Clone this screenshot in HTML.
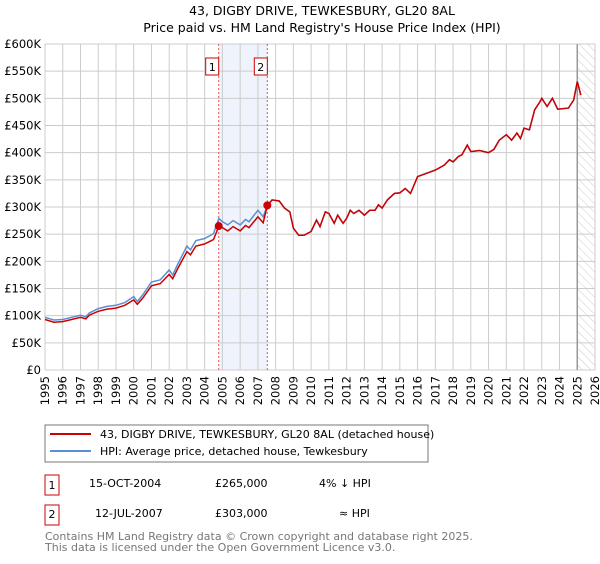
<!DOCTYPE html>
<html><head><meta charset="utf-8"><style>
body{margin:0;background:#fff;font-family:"DejaVu Sans","Liberation Sans",sans-serif;}
svg text{font-family:"DejaVu Sans","Liberation Sans",sans-serif;}
</style></head><body>
<svg id="chart" width="600" height="560" viewBox="0 0 600 560" xmlns="http://www.w3.org/2000/svg">
<text x="322" y="15" text-anchor="middle" font-size="12.5">43, DIGBY DRIVE, TEWKESBURY, GL20 8AL</text>
<text x="322" y="32" text-anchor="middle" font-size="12.5">Price paid vs. HM Land Registry's House Price Index (HPI)</text>
<defs><pattern id="hatch" width="6" height="6" patternUnits="userSpaceOnUse" patternTransform="rotate(-45)"><line x1="0" y1="0" x2="0" y2="6" stroke="#ccc" stroke-width="1"/></pattern></defs>
<g id="grid"></g><g id="marks"></g><g id="axes"></g>
<g>
<rect x="45" y="425" width="383" height="37" fill="#fff" stroke="#777"/>
<line x1="50" y1="434" x2="91" y2="434" stroke="#c00" stroke-width="2"/>
<text x="100" y="438" font-size="11">43, DIGBY DRIVE, TEWKESBURY, GL20 8AL (detached house)</text>
<line x1="50" y1="451" x2="91" y2="451" stroke="#5b8fd4" stroke-width="2"/>
<text x="100" y="455" font-size="11">HPI: Average price, detached house, Tewkesbury</text>
</g>
<g font-size="11">
<rect x="45" y="475" width="14" height="20" fill="#fff" stroke="#c00"/>
<text x="52" y="489" text-anchor="middle">1</text>
<text x="89" y="487">15-OCT-2004</text>
<text x="215" y="487">£265,000</text>
<text x="319" y="487">4% ↓ HPI</text>
<rect x="45" y="505" width="14" height="20" fill="#fff" stroke="#c00"/>
<text x="52" y="518" text-anchor="middle">2</text>
<text x="95" y="517">12-JUL-2007</text>
<text x="215" y="517">£303,000</text>
<text x="339" y="517">≈ HPI</text>
</g>
<text x="45" y="540" font-size="11" fill="#777">Contains HM Land Registry data © Crown copyright and database right 2025.</text>
<text x="45" y="551" font-size="11" fill="#777">This data is licensed under the Open Government Licence v3.0.</text>
</svg>
<script>
const hpiYears=[1995,1995.5,1996,1996.5,1997,1997.3,1997.5,1998,1998.5,1999,1999.5,2000,2000.2,2000.5,2001,2001.5,2002,2002.2,2002.5,2003,2003.2,2003.5,2004,2004.5,2004.8,2005,2005.3,2005.6,2006,2006.3,2006.5,2007,2007.3,2007.5,2007.8,2008.2,2008.5,2008.8,2009,2009.3,2009.6,2010,2010.3,2010.5,2010.8,2011,2011.3,2011.5,2011.8,2012,2012.2,2012.4,2012.7,2013,2013.3,2013.6,2013.8,2014,2014.3,2014.7,2015,2015.3,2015.6,2016,2016.5,2017,2017.5,2017.8,2018,2018.3,2018.5,2018.8,2019,2019.5,2020,2020.3,2020.6,2021,2021.3,2021.6,2021.8,2022,2022.3,2022.6,2022.9,2023,2023.3,2023.6,2023.9,2024.5,2024.8,2025,2025.2];
const hpiValues=[97,92,93,97,101,98,105,113,117,119,124,135,126,138,162,166,184,175,196,228,221,238,242,251,279,273,267,275,267,277,273,294,282,300,313,311,298,291,261,248,248,255,276,264,291,288,270,285,270,279,294,288,294,285,294,294,304,298,313,325,326,334,325,356,362,368,377,387,383,393,396,414,402,404,400,406,423,433,423,436,426,445,442,479,494,500,485,500,480,482,497,531,506];
const priceYears=[1995,1995.5,1996,1996.5,1997,1997.3,1997.5,1998,1998.5,1999,1999.5,2000,2000.2,2000.5,2001,2001.5,2002,2002.2,2002.5,2003,2003.2,2003.5,2004,2004.5,2004.8,2005,2005.3,2005.6,2006,2006.3,2006.5,2007,2007.3,2007.53,2007.8,2008.2,2008.5,2008.8,2009,2009.3,2009.6,2010,2010.3,2010.5,2010.8,2011,2011.3,2011.5,2011.8,2012,2012.2,2012.4,2012.7,2013,2013.3,2013.6,2013.8,2014,2014.3,2014.7,2015,2015.3,2015.6,2016,2016.5,2017,2017.5,2017.8,2018,2018.3,2018.5,2018.8,2019,2019.5,2020,2020.3,2020.6,2021,2021.3,2021.6,2021.8,2022,2022.3,2022.6,2022.9,2023,2023.3,2023.6,2023.9,2024.5,2024.8,2025,2025.2];
const priceValues=[93,88,89,93,97,94,101,108,112,114,119,129,121,132,155,159,176,168,188,218,212,228,232,240,265,262,256,264,256,266,262,282,271,303,313,311,298,291,261,248,248,255,276,264,291,288,270,285,270,279,294,288,294,285,294,294,304,298,313,325,326,334,325,356,362,368,377,387,383,393,396,414,402,404,400,406,423,433,423,436,426,445,442,479,494,500,485,500,480,482,497,531,506];
const sales=[{year:2004.79,value:265,label:"1"},{year:2007.53,value:303,label:"2"}];
const yTicks=[0,50,100,150,200,250,300,350,400,450,500,550,600];
const yTickLabels=["£0","£50K","£100K","£150K","£200K","£250K","£300K","£350K","£400K","£450K","£500K","£550K","£600K"];
const xTicks=[1995,1996,1997,1998,1999,2000,2001,2002,2003,2004,2005,2006,2007,2008,2009,2010,2011,2012,2013,2014,2015,2016,2017,2018,2019,2020,2021,2022,2023,2024,2025,2026];
const dataEnd=2025.0;

const X0=45,X1=595,Y0=370,Y1=44;
const xs=y=>X0+(y-1995)/(2026-1995)*(X1-X0);
const ys=v=>Y0-v/600*(Y0-Y1);
const NS="http://www.w3.org/2000/svg";
function mk(tag,attrs,parent){const e=document.createElementNS(NS,tag);for(const k in attrs)e.setAttribute(k,attrs[k]);parent.appendChild(e);return e;}
const grid=document.getElementById('grid'),marks=document.getElementById('marks'),axes=document.getElementById('axes');
// shaded region
let r=mk('rect',{x:xs(sales[0].year),y:Y1,width:xs(sales[1].year)-xs(sales[0].year),height:Y0-Y1,fill:'#eef3fc'},grid);


let h=mk('rect',{x:xs(dataEnd),y:Y1,width:X1-xs(dataEnd),height:Y0-Y1,fill:'url(#hatch)'},grid);


yTicks.forEach((t,i)=>{
  let l=mk('line',{x1:X0,x2:X1,y1:ys(t),y2:ys(t),stroke:'#ccc'},grid);
  
  
  let tx=mk('text',{x:X0-4,y:ys(t)+4,'text-anchor':'end','font-size':'11.5'},axes);
  tx.textContent=yTickLabels[i];
  
  
});
xTicks.forEach(t=>{
  let l=mk('line',{x1:xs(t),x2:xs(t),y1:Y1,y2:Y0,stroke:'#ccc'},grid);
  
  
  let tx=mk('text',{x:0,y:0,'text-anchor':'end','font-size':'11.5',transform:`translate(${xs(t)+4},${Y0+6}) rotate(-90)`},axes);
  tx.textContent=t;
  
  
});
let de=mk('line',{x1:xs(dataEnd),x2:xs(dataEnd),y1:Y1,y2:Y0,stroke:'#999','stroke-width':1.5},grid);


sales.forEach(s=>{
  let l=mk('line',{x1:xs(s.year),x2:xs(s.year),y1:Y1,y2:Y0,stroke:'#e55','stroke-dasharray':'2,2'},grid);
  
  
});
function path(xa,va){return xa.map((y,i)=>(i?'L':'M')+xs(y).toFixed(1)+','+ys(va[i]).toFixed(1)).join('');}
let hp=mk('path',{d:path(hpiYears,hpiValues),fill:'none',stroke:'#5b8fd4','stroke-width':1.5},marks);


let pp=mk('path',{d:path(priceYears,priceValues),fill:'none',stroke:'#c00','stroke-width':1.5},marks);


sales.forEach(s=>{
  let c=mk('circle',{cx:xs(s.year),cy:ys(s.value),r:4,fill:'#c00'},marks);
  
  
  let b=mk('rect',{x:xs(s.year)-13,y:58,width:13,height:17,fill:'#fff',stroke:'#c00'},marks);
  
  
  let t=mk('text',{x:xs(s.year)-6.5,y:71,'text-anchor':'middle','font-size':'11'},marks);
  t.textContent=s.label;
  
  
});
</script>
</body></html>
